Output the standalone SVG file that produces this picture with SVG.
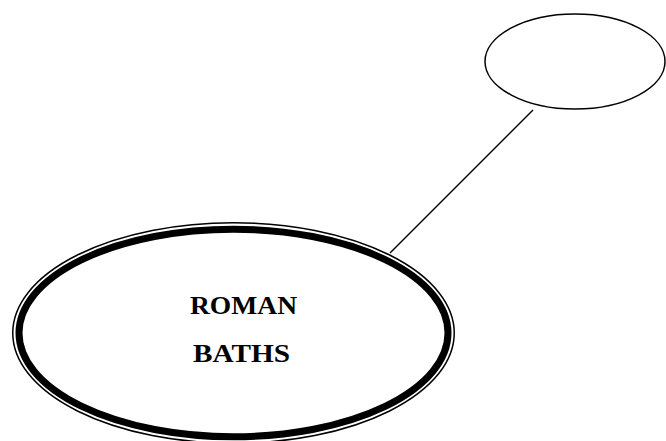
<svg xmlns="http://www.w3.org/2000/svg" width="666" height="441" viewBox="0 0 666 441">
<style>
.bg{fill:#fff}
.thin{fill:none;stroke:#000;stroke-width:1.5}
.thick{fill:none;stroke:#000;stroke-width:7}
.lbl{font-family:"Liberation Serif","Times New Roman",serif;font-weight:bold;font-size:26px;fill:#000;text-anchor:middle}
</style>
<rect class="bg" x="0" y="0" width="666" height="441"/>
<g id="connectors">
<line x1="533" y1="110" x2="390" y2="253" stroke="#000" stroke-width="1.5"/>
</g>
<g id="node-small">
<ellipse cx="575" cy="61.5" rx="90" ry="47.5" fill="#fff" stroke="#000" stroke-width="1.5"/>
</g>
<g id="node-roman-baths">
<ellipse cx="233.5" cy="333" rx="220.75" ry="110.25" fill="#fff" class="thin"/>
<ellipse cx="233.5" cy="333" rx="214.5" ry="103.75" class="thick"/>
<text class="lbl" x="243.5" y="314" textLength="107" lengthAdjust="spacingAndGlyphs">ROMAN</text>
<text class="lbl" x="241.5" y="362" textLength="97" lengthAdjust="spacingAndGlyphs">BATHS</text>
</g>
</svg>
